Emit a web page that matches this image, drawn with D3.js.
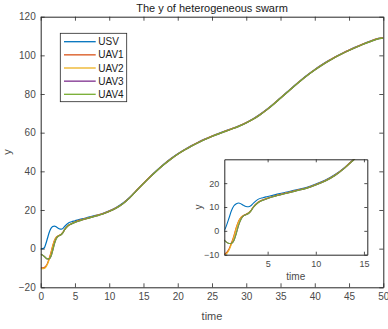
<!DOCTYPE html>
<html><head><meta charset="utf-8">
<script src="https://cdn.jsdelivr.net/npm/d3@7"></script>
<style>body{margin:0;background:#fff;} svg{display:block;}</style>
</head><body>
<script>
const tVals = [0,0.25,0.5,0.75,1,1.25,1.5,1.75,2,2.25,2.5,2.75,3,3.25,3.5,4,4.5,5,6,7,8,9,10,11,12,13,14,15,16,17,18,19,20,21,22,23,24,25,26,27,28,29,30,31,32,33,34,35,36,37,38,39,40,41,42,43,44,45,46,47,48,49,50];
const usv  = [0,0,0.3,2.5,5.5,8.5,10.5,11.4,11.7,11.3,10.7,10.2,10.1,10.5,11.5,13.2,13.9,14.4,15.4,16.3,17.2,18.2,19.6,21.3,23.6,26.6,30.3,33.9,37.4,40.7,43.8,46.6,49.1,51.3,53.3,55.1,56.8,58.3,59.7,61.0,62.3,63.7,65.3,67.2,69.5,72.1,75.0,78.1,81.2,84.3,87.3,90.1,92.7,95.1,97.3,99.3,101.1,102.8,104.4,105.9,107.3,108.6,109.2];
const uav1 = [-10,-10,-9.8,-9,-7.5,-5,-2,1.5,4.2,5.8,6.5,7.0,7.5,8.5,10.0,12.0,13.0,13.8,15.0,16.0,17.0,18.0,19.4,21.1,23.4,26.5,30.2,33.8,37.3,40.6,43.7,46.5,49.0,51.2,53.2,55.0,56.7,58.2,59.6,60.9,62.2,63.6,65.2,67.1,69.4,72.0,74.9,78.0,81.1,84.2,87.2,90.0,92.6,95.0,97.2,99.2,101.0,102.7,104.3,105.8,107.2,108.5,109.1];
const uav2 = [-10.4,-10.4,-10.2,-9.5,-8.0,-5.5,-2.4,1.2,4.0,5.7,6.4,6.9,7.4,8.4,9.9,11.9,12.9,13.7,14.9,15.9,16.9,17.9,19.3,21.0,23.3,26.4,30.1,33.7,37.2,40.5,43.6,46.4,48.9,51.1,53.1,54.9,56.6,58.1,59.5,60.8,62.1,63.5,65.1,67.0,69.3,71.9,74.8,77.9,81.0,84.1,87.1,89.9,92.5,94.9,97.1,99.1,100.9,102.6,104.2,105.7,107.1,108.4,109.0];
const uav3 = [-3,-3.3,-4,-4.8,-5.3,-5.2,-4,-1,2.5,5.0,6.3,6.8,7.3,8.3,9.8,11.8,12.8,13.6,14.8,15.8,16.8,17.8,19.2,20.9,23.2,26.3,30.0,33.6,37.1,40.4,43.5,46.3,48.8,51.0,53.0,54.8,56.5,58.0,59.4,60.7,62.0,63.4,65.0,66.9,69.2,71.8,74.7,77.8,80.9,84.0,87.0,89.8,92.4,94.8,97.0,99.0,100.8,102.5,104.1,105.6,107.0,108.3,108.9];
const uav4 = [-3,-3.3,-4,-4.8,-5.3,-5.2,-4,-1,2.5,5.0,6.3,6.8,7.3,8.3,9.8,11.8,12.8,13.6,14.8,15.8,16.8,17.8,19.2,20.9,23.2,26.3,30.0,33.6,37.1,40.4,43.5,46.3,48.8,51.0,53.0,54.8,56.5,58.0,59.4,60.7,62.0,63.4,65.0,66.9,69.2,71.8,74.7,77.8,80.9,84.0,87.0,89.8,92.4,94.8,97.0,99.0,100.8,102.5,104.1,105.6,107.0,108.3,108.9];
const seriesNames = ["USV","UAV1","UAV2","UAV3","UAV4"];
const seriesColors = ["#0072BD","#D95319","#EDB120","#7E2F8E","#77AC30"];
const mainXTicks = [0,5,10,15,20,25,30,35,40,45,50];
const mainYTicks = [-20,0,20,40,60,80,100,120];
const insetXTicks = [5,10,15];
const insetYTicks = [-10,0,10,20];
const titleText = "The y of heterogeneous swarm";

const allSeries = [usv,uav1,uav2,uav3,uav4];
const W=388,H=329;
const svg = d3.select("body").append("svg").attr("width",W).attr("height",H);
const font = "'Liberation Sans', Arial, Helvetica, sans-serif";
const axCol = "#262626";
const lblCol = "#4a4a4a";

function drawAxes(g, x, y, xt, yt, id, lw, tickLen, xlabelY, ylabelX, fs) {
  const [x0,x1]=x.range(), [y0,y1]=y.range();
  g.append("rect").attr("x",x0).attr("y",y1).attr("width",x1-x0).attr("height",y0-y1).attr("fill","#fff");
  g.append("clipPath").attr("id",id).append("rect").attr("x",x0).attr("y",y1).attr("width",x1-x0).attr("height",y0-y1);
  const lines = g.append("g").attr("clip-path",`url(#${id})`);
  const line = d3.line().x((d,i)=>x(tVals[i])).y(d=>y(d)).curve(d3.curveMonotoneX);
  allSeries.forEach((s,k)=>{
    lines.append("path").attr("d",line(s)).attr("fill","none").attr("stroke",seriesColors[k]).attr("stroke-width",lw);
  });
  // axes with inward ticks
  const xb = g.append("g").attr("transform",`translate(0,${y0})`).call(d3.axisBottom(x).tickValues(xt).tickSizeInner(-tickLen).tickSizeOuter(0).tickPadding(6));
  const xtop = g.append("g").attr("transform",`translate(0,${y1})`).call(d3.axisTop(x).tickValues(xt).tickSizeInner(-tickLen).tickSizeOuter(0).tickFormat(""));
  const yl = g.append("g").attr("transform",`translate(${x0},0)`).call(d3.axisLeft(y).tickValues(yt).tickSizeInner(-tickLen).tickSizeOuter(0).tickPadding(5));
  const yr = g.append("g").attr("transform",`translate(${x1},0)`).call(d3.axisRight(y).tickValues(yt).tickSizeInner(-tickLen).tickSizeOuter(0).tickFormat(""));
  [xb,xtop,yl,yr].forEach(a=>{
    a.select(".domain").attr("stroke",axCol).attr("stroke-width",1);
    a.selectAll(".tick line").attr("stroke",axCol).attr("stroke-width",0.8);
    a.selectAll("text").attr("fill",lblCol).style("font-family",font).style("font-size",fs+"px");
  });
  g.append("text").attr("x",(x0+x1)/2).attr("y",xlabelY).attr("text-anchor","middle").attr("fill",lblCol)
   .style("font-family",font).style("font-size",(fs+1)+"px").text("time");
  g.append("text").attr("transform",`translate(${ylabelX},${(y0+y1)/2}) rotate(-90)`).attr("text-anchor","middle").attr("fill",lblCol)
   .style("font-family",font).style("font-size",(fs+1)+"px").text("y");
}

// main axes
const x = d3.scaleLinear().domain([0,50]).range([40.7,383.3]);
const y = d3.scaleLinear().domain([-20,120]).range([287.3,16.7]);
const gm = svg.append("g");
drawAxes(gm, x, y, mainXTicks, mainYTicks, "clipMain", 1.2, 4, 320, 11, 10);
svg.append("text").attr("x",(40.7+383.3)/2).attr("y",12).attr("text-anchor","middle").attr("fill","#1a1a1a")
  .style("font-family",font).style("font-size","11px").text(titleText);

// legend
const lg = svg.append("g");
lg.append("rect").attr("x",60.3).attr("y",33.3).attr("width",66.4).attr("height",68.4)
  .attr("fill","#fff").attr("stroke",axCol).attr("stroke-width",0.8);
const ly = d3.scalePoint().domain(seriesNames).range([41.7,94.3]);
seriesNames.forEach((n,k)=>{
  lg.append("line").attr("x1",64).attr("x2",95.7).attr("y1",ly(n)).attr("y2",ly(n)).attr("stroke",seriesColors[k]).attr("stroke-width",1.3);
  lg.append("text").attr("x",98.3).attr("y",ly(n)+3.6).attr("fill","#1a1a1a").style("font-family",font).style("font-size","10px").text(n);
});

// inset axes
const xi = d3.scaleLinear().domain([0.5,15.35]).range([224.3,367.3]);
const yi = d3.scaleLinear().domain([-10,30]).range([254.7,159.3]);
const gi = svg.append("g");
drawAxes(gi, xi, yi, insetXTicks, insetYTicks, "clipInset", 1.1, 3, 280, 201.5, 9);
</script>
</body></html>
